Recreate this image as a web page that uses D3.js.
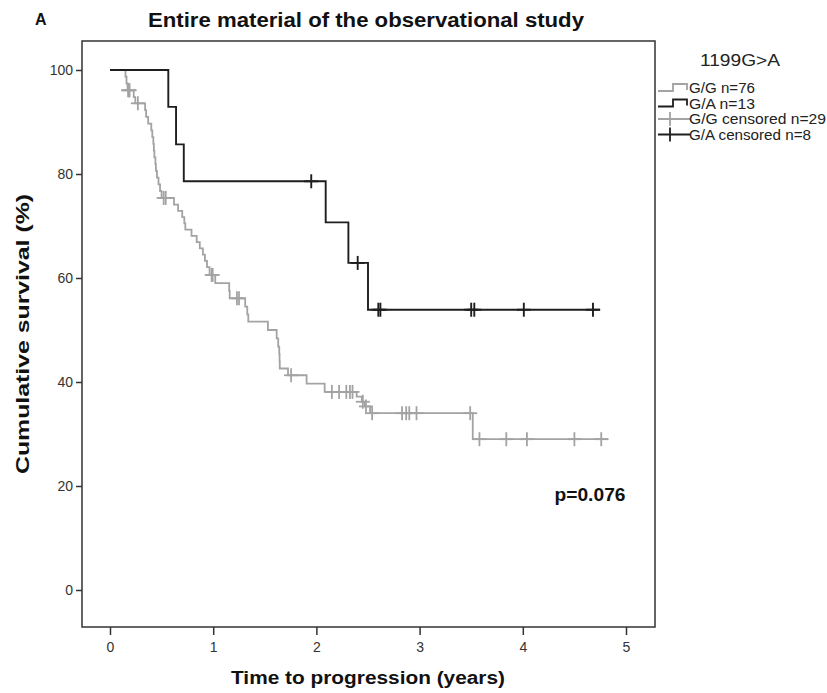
<!DOCTYPE html>
<html><head><meta charset="utf-8">
<script src="https://cdn.jsdelivr.net/npm/d3@7"></script>
<style>body{margin:0;background:#fff;} svg{display:block;} text{font-family:"Liberation Sans",Arial,sans-serif;}</style>
</head><body>
<svg id="c" width="827" height="693"></svg>
<script>
// ---- data ----
const xTicks = [0, 1, 2, 3, 4, 5];
const yTicks = [0, 20, 40, 60, 80, 100];
const groups = ["G/G n=76", "G/A n=13", "G/G censored n=29", "G/A censored n=8"];
// [time (years), survival (%)] after each event
const ggSteps = [[0,100],[0.15,98.7],[0.16,97.4],[0.17,96.1],[0.23,94.8],[0.245,93.6],[0.34,92.3],[0.35,91.0],[0.37,89.7],
  [0.40,88.4],[0.41,87.1],[0.42,85.8],[0.425,84.5],[0.43,83.2],[0.44,81.9],[0.445,80.6],[0.455,79.3],[0.47,78.0],
  [0.485,76.7],[0.50,75.4],[0.62,74.1],[0.66,72.9],[0.70,71.7],[0.72,70.5],[0.73,69.3],[0.79,68.1],[0.84,66.9],
  [0.87,65.7],[0.90,64.5],[0.92,63.3],[0.94,62.1],[0.965,60.6],[1.02,59.0],[1.155,57.5],[1.16,56.1],[1.31,54.5],
  [1.33,53.0],[1.34,51.6],[1.53,50.0],[1.615,48.4],[1.63,46.8],[1.64,45.4],[1.643,44.0],[1.645,42.6],[1.725,41.3],
  [1.905,39.7],[2.08,38.1],[2.39,37.2],[2.44,36.2],[2.47,35.3],[2.52,34.0],[3.515,29.0]];
const ggEnd = 4.83;
const ggCensor = [0.175,0.185,0.19,0.27,0.52,0.54,0.985,0.995,1.23,1.25,1.755,2.15,2.22,2.29,2.325,2.35,2.45,2.48,2.54,
  2.83,2.87,2.90,2.97,3.49,3.58,3.84,4.04,4.50,4.76];
const gaSteps = [[0,100],[0.565,92.9],[0.64,85.7],[0.715,78.6],[2.09,70.7],[2.31,62.9],[2.50,53.9]];
const gaEnd = 4.75;
const gaCensor = [1.95,2.40,2.60,2.62,3.50,3.53,4.01,4.68];

// ---- drawing ----
const svg = d3.select("#c");
const x = d3.scaleLinear().domain([0,5]).range([110,626]);
const y = d3.scaleLinear().domain([0,100]).range([590,70]);
const frame = {l:82, r:655, t:41, b:627};
const grayC = "#a3a3a3", blackC = "#1e1e1e";

svg.append("rect").attr("x",frame.l).attr("y",frame.t).attr("width",frame.r-frame.l).attr("height",frame.b-frame.t)
  .attr("fill","none").attr("stroke","#333").attr("stroke-width",1.5);

const xa = svg.append("g").attr("transform",`translate(0,${frame.b})`)
  .call(d3.axisBottom(x).tickValues(xTicks).tickFormat(d3.format("d")).tickSize(8).tickSizeOuter(0).tickPadding(7));
xa.select(".domain").remove();
xa.selectAll("line").attr("stroke","#333").attr("stroke-width",1.5);
xa.selectAll("text").attr("font-size",14).attr("fill","#333").attr("font-family","Liberation Sans, Arial, sans-serif");

const ya = svg.append("g").attr("transform",`translate(${frame.l},0)`)
  .call(d3.axisLeft(y).tickValues(yTicks).tickFormat(d3.format("d")).tickSize(6).tickSizeOuter(0).tickPadding(3));
ya.select(".domain").remove();
ya.selectAll("line").attr("stroke","#333").attr("stroke-width",1.5);
ya.selectAll("text").attr("font-size",14).attr("fill","#333").attr("font-family","Liberation Sans, Arial, sans-serif");

function survAt(steps, t){ let s=100; for(const d of steps){ if(d[0]<=t) s=d[1]; } return s; }
const line = d3.line().x(d=>x(d[0])).y(d=>y(d[1])).curve(d3.curveStepAfter);
function drawCurve(steps, end, censor, col, w){
  const pts = steps.concat([[end, steps[steps.length-1][1]]]);
  svg.append("path").attr("d", line(pts)).attr("fill","none").attr("stroke",col).attr("stroke-width",w);
  const g = svg.append("g").attr("stroke",col).attr("stroke-width",w);
  censor.forEach(t=>{
    const cx = x(t), cy = y(survAt(steps,t));
    g.append("line").attr("x1",cx).attr("x2",cx).attr("y1",cy-7).attr("y2",cy+7);
    g.append("line").attr("x1",cx-7).attr("x2",cx+7).attr("y1",cy).attr("y2",cy);
  });
}
drawCurve(ggSteps, ggEnd, ggCensor, grayC, 1.8);
drawCurve(gaSteps, gaEnd, gaCensor, blackC, 1.9);

// titles
svg.append("text").attr("x",35).attr("y",25).attr("font-size",16).attr("font-weight","bold").attr("fill","#111").text("A");
svg.append("text").attr("x",366).attr("y",27).attr("text-anchor","middle").attr("font-size",20).attr("font-weight","bold")
  .attr("textLength",436).attr("lengthAdjust","spacingAndGlyphs").attr("fill","#111").text("Entire material of the observational study");
svg.append("text").attr("x",368).attr("y",684).attr("text-anchor","middle").attr("font-size",18).attr("font-weight","bold")
  .attr("textLength",274).attr("lengthAdjust","spacingAndGlyphs").attr("fill","#111").text("Time to progression (years)");
svg.append("text").attr("transform","translate(29,334) rotate(-90)").attr("text-anchor","middle").attr("font-size",19)
  .attr("textLength",280).attr("lengthAdjust","spacingAndGlyphs")
  .attr("font-weight","bold").attr("fill","#111").text("Cumulative survival (%)");
svg.append("text").attr("x",590).attr("y",501).attr("text-anchor","middle").attr("font-size",18).attr("font-weight","bold")
  .attr("textLength",71).attr("lengthAdjust","spacingAndGlyphs").attr("fill","#111").text("p=0.076");

// legend
svg.append("text").attr("x",700).attr("y",66).attr("font-size",17).attr("fill","#222")
  .attr("textLength",80).attr("lengthAdjust","spacingAndGlyphs").text("1199G>A");
const legY = [88,103.5,119,134.5];
const legW = [66, 66, 137, 122];
const legCols = [grayC, blackC, grayC, blackC];
groups.forEach((g,i)=>{
  const cy = legY[i], col = legCols[i];
  if(i<2){
    svg.append("path").attr("d",`M658,${cy+3}H673V${cy-4}H687V${cy+2}`).attr("fill","none").attr("stroke",col).attr("stroke-width",1.8);
  } else {
    svg.append("path").attr("d",`M658,${cy}H690M670,${cy-7}V${cy+7}`).attr("fill","none").attr("stroke",col).attr("stroke-width",1.8);
  }
  svg.append("text").attr("x",689).attr("y",cy+5).attr("font-size",14).attr("fill","#222")
    .attr("textLength",legW[i]).attr("lengthAdjust","spacingAndGlyphs").text(g);
});
</script>
</body></html>
